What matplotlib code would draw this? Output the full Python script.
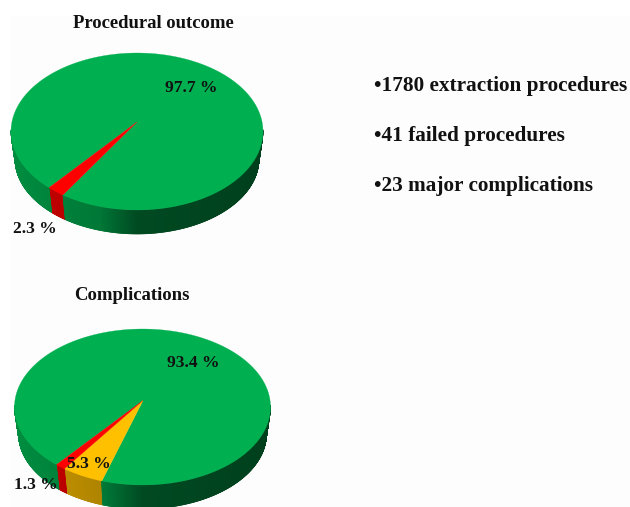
import matplotlib
matplotlib.use('Agg')
import matplotlib.pyplot as plt
from matplotlib.patches import Polygon, Rectangle
from matplotlib.colors import to_rgb
import numpy as np

plt.rcParams['font.family'] = ['Liberation Serif', 'DejaVu Serif']

# Slice shares in percent, listed clockwise from the first slice
outcome_values = [2.3, 97.7]
outcome_colors = ['#FF0000', '#00B050']
outcome_labels = ['2.3 %', '97.7 %']

complication_values = [5.3, 1.3, 93.4]
complication_colors = ['#FFC000', '#FF0000', '#00B050']
complication_labels = ['5.3 %', '1.3 %', '93.4 %']

summary_lines = ['•1780 extraction procedures', '•41 failed procedures',
                 '•23 major complications']


def rim(ell, t):
    cx, cy, a, b = ell
    return cx + a * np.cos(t), cy + b * np.sin(t)


def draw_pie(ax, values, colors, top, bottom, apex, start):
    """Fake 3D pie: t runs clockwise on screen because the y axis is flipped.

    top and bottom are (cx, cy, a, b) ellipses; the bottom one is a bit
    narrower so the wall tapers like a perspective view.
    """
    angle = np.radians(start)
    spans = []
    for v in values:
        sweep = np.radians(v * 3.6)
        spans.append((angle, angle + sweep))
        angle += sweep

    # side wall, shaded from left to right
    for (t0, t1), col in zip(spans, colors):
        base = np.array(to_rgb(col))
        ts = np.arange(t0, t1 + 0.004, 0.004)
        for s0, s1 in zip(ts[:-1], ts[1:]):
            if np.sin(s0) < -0.02 and np.sin(s1) < -0.02:
                continue
            shade = np.interp(np.cos(s0), [-1, -0.3, 0.0, 1], [0.8, 0.68, 0.42, 0.36])
            x0, y0 = rim(top, s0)
            x1, y1 = rim(top, s1)
            x2, y2 = rim(bottom, s1)
            x3, y3 = rim(bottom, s0)
            ax.add_patch(Polygon([(x0, y0), (x1, y1), (x2, y2), (x3, y3)],
                                 facecolor=base * shade, edgecolor=base * shade, lw=0.4))

    # top face, biggest slice first so the thin ones stay visible at the apex
    order = np.argsort(values)[::-1]
    for i in order:
        t0, t1 = spans[i]
        ts = np.linspace(t0, t1, 300)
        xs, ys = rim(top, ts)
        pts = [apex] + list(zip(xs, ys))
        ax.add_patch(Polygon(pts, facecolor=colors[i], edgecolor=colors[i], lw=0.2))


fig = plt.figure(figsize=(6.3, 5.07), dpi=100, facecolor='white')
ax = fig.add_axes([0, 0, 1, 1])
ax.set_xlim(0, 630)
ax.set_ylim(507, 0)
ax.axis('off')

ax.add_patch(Rectangle((11, 16), 619, 491, facecolor='#FDFDFD', edgecolor='none'))

draw_pie(ax, outcome_values, outcome_colors, (137, 131.5, 126, 78.5), (137, 159, 122, 75),
         (137, 122), 126)
draw_pie(ax, complication_values, complication_colors, (142.5, 407, 128, 78), (142.5, 434, 124, 75),
         (143, 400.5), 108.5)

text_style = dict(fontweight='bold', color='#111111', va='center')
ax.text(153, 23, 'Procedural outcome', ha='center', fontsize=13.4, **text_style)
ax.text(131.5, 295, 'Complications', ha='center', fontsize=13.5, **text_style)

ax.text(191, 88, outcome_labels[1], ha='center', fontsize=12.6, **text_style)
ax.text(35, 229, outcome_labels[0], ha='center', fontsize=12.6, **text_style)

ax.text(193, 363, complication_labels[2], ha='center', fontsize=12.6, **text_style)
ax.text(89, 464, complication_labels[0], ha='center', fontsize=12.6, **text_style)
ax.text(36, 485, complication_labels[1], ha='center', fontsize=12.6, **text_style)

for y, line in zip([85.5, 135.5, 186.5], summary_lines):
    ax.text(374, y, line, ha='left', fontsize=15.3, **text_style)

fig.savefig('out.png', dpi=100)
